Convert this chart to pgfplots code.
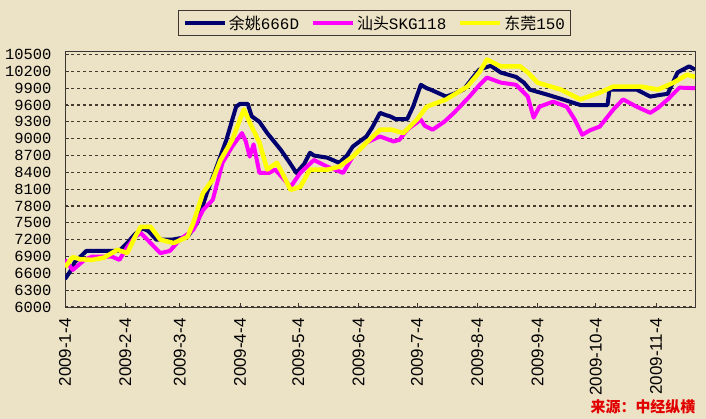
\documentclass[border=0pt]{standalone}
\usepackage{fontspec}
\setmainfont{Liberation Sans}
\setmonofont{Liberation Mono}
\newfontfamily\cjk{Noto Sans CJK SC}
\usepackage{pgfplots}
\pgfplotsset{compat=1.18}
\definecolor{bg}{RGB}{236,226,197}
\definecolor{navyline}{RGB}{0,0,110}
\definecolor{magline}{RGB}{255,0,255}
\definecolor{yelline}{RGB}{255,255,0}
\definecolor{framec}{RGB}{60,55,50}
\definecolor{gridc}{RGB}{70,60,45}
\definecolor{srcred}{RGB}{225,0,0}
\begin{document}
\begin{tikzpicture}
\useasboundingbox (0,0) rectangle (706bp,419bp);
\fill[bg] (0,0) rectangle (706bp,419bp);
\begin{axis}[
  at={(65bp,112bp)}, anchor=south west,
  width=630bp, height=255bp, scale only axis,
  xmin=0, xmax=324, ymin=6000, ymax=10545,
  axis line style={draw=framec, line width=1bp},
  xtick={0,31,59,90,120,151,181,212,243,273,304},
  xticklabels={2009-1-4,2009-2-4,2009-3-4,2009-4-4,2009-5-4,2009-6-4,2009-7-4,2009-8-4,2009-9-4,2009-10-4,2009-11-4},
  xticklabel style={rotate=90, anchor=east, font=\fontsize{17}{17}\selectfont, xshift=-8bp},
  ytick={6000,6300,...,10500},
  scaled y ticks=false,
  yticklabel style={font=\fontsize{15.5}{15.5}\selectfont\ttfamily, xshift=-10bp},
  yticklabel={\pgfmathprintnumber[fixed,precision=0,1000 sep={},assume math mode=true]{\tick}},
  xtick pos=bottom, ytick pos=left,
  tick align=inside,
  major tick length=4bp,
  tick style={draw=framec, line width=0.8bp},
  ymajorgrids,
  grid style={draw=gridc, line width=1.2bp, dash pattern=on 3bp off 3bp},
  legend columns=3,
  legend style={at={(0.492,1.112)}, anchor=center, draw=framec, line width=1bp, fill=bg,
    font=\fontsize{16}{16}\selectfont\ttfamily, inner xsep=4bp, inner ysep=3bp,
    /tikz/every even column/.append style={column sep=10bp}},
  legend image code/.code={\draw[#1, line width=4bp] (0bp,0bp) -- (40bp,0bp);},
  every axis plot/.append style={line join=round},
]
\addplot[navyline, line width=4bp] coordinates {
(0,6500) (3,6650) (5,6800) (8,6900) (11,7000) (28,7000) (32,7140) (36,7300) (40,7400) (43,7350) (47,7200) (55,7200) (63,7250) (68,7500) (73,8035) (78,8500) (83,8980) (88,9570) (90,9620) (94,9620) (96,9400) (100,9300) (104,9100) (111,8800) (115,8600) (119,8390) (123,8550) (126,8750) (128,8700) (135,8660) (141,8570) (145,8700) (148,8860) (155,9040) (158,9200) (162,9460) (165,9420) (167,9400) (170,9350) (176,9350) (179,9570) (183,9960) (186,9900) (188,9875) (196,9750) (200,9800) (205,9875) (210,10100) (213,10230) (219,10300) (224,10180) (232,10100) (236,10000) (239,9875) (248,9785) (256,9700) (265,9600) (279,9600) (280,9875) (294,9875) (301,9750) (306,9780) (310,9800) (315,10180) (321,10290) (324,10230)
};
\addlegendentry{{\cjk 余姚}666D}
\addplot[magline, line width=4bp] coordinates {
(0,6840) (2,6750) (4,6660) (7,6750) (10,6840) (14,6900) (24,6900) (28,6840) (32,7070) (36,7250) (39,7320) (44,7140) (49,6960) (54,7000) (59,7200) (66,7375) (71,7730) (76,7910) (81,8570) (86,8860) (91,9100) (93,8950) (95,8680) (97,8900) (100,8390) (105,8390) (108,8450) (112,8300) (116,8140) (121,8390) (128,8620) (135,8500) (143,8390) (148,8680) (155,8930) (162,9040) (169,8950) (172,8980) (176,9160) (183,9340) (185,9230) (189,9160) (195,9300) (200,9460) (208,9750) (213,9950) (217,10090) (224,10000) (232,9960) (238,9750) (241,9375) (244,9570) (251,9660) (258,9570) (262,9350) (266,9070) (270,9150) (275,9215) (282,9520) (287,9700) (294,9570) (301,9460) (305,9550) (310,9700) (316,9910) (324,9900)
};
\addlegendentry{{\cjk 汕头}SKG118}
\addplot[yelline, line width=4.5bp] coordinates {
(0,6710) (4,6890) (8,6850) (14,6840) (20,6880) (27,7020) (32,6960) (36,7250) (39,7430) (44,7430) (49,7200) (56,7140) (63,7250) (66,7500) (71,8035) (76,8270) (80,8620) (86,8980) (92,9520) (96,9215) (100,8930) (104,8450) (109,8570) (113,8300) (116,8090) (121,8140) (126,8450) (135,8450) (141,8500) (148,8680) (155,8930) (162,9160) (168,9160) (174,9100) (181,9340) (186,9570) (196,9700) (207,9930) (213,10180) (217,10410) (224,10290) (234,10290) (238,10180) (243,10000) (255,9875) (265,9700) (275,9820) (282,9930) (296,9930) (305,9875) (313,10000) (320,10140) (324,10100)
};
\addlegendentry{{\cjk 东莞}150}
\end{axis}
\node[text=srcred, font=\cjk\bfseries\fontsize{15}{15}\selectfont, fill=bg, inner sep=1bp] at (643bp,12bp) {来源：中经纵横};
\end{tikzpicture}
\end{document}
